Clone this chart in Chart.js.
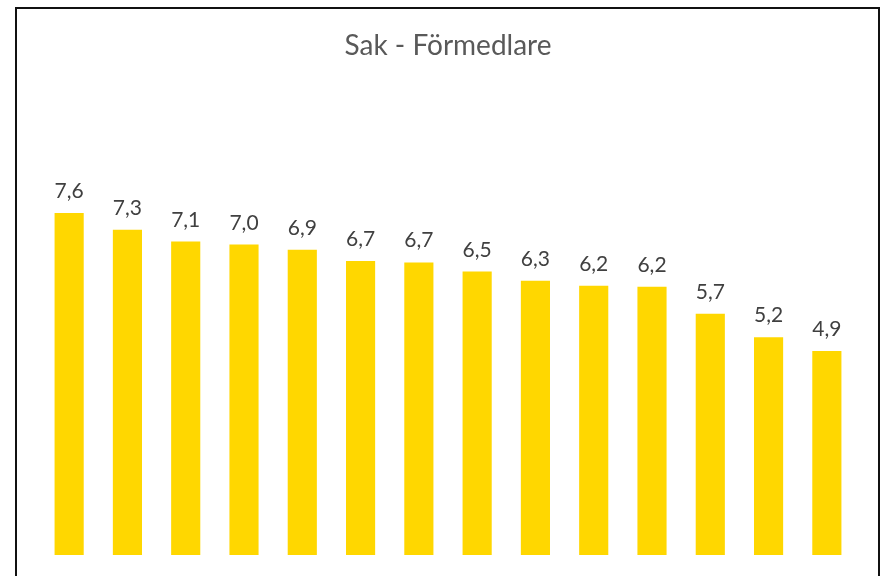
<!DOCTYPE html>
<html>
<head>
<meta charset="UTF-8">
<style>
    body { margin: 0; background: #fff; overflow: hidden; }
    #frame { position: absolute; left: 15px; top: 7px; width: 861px; height: 620px; border: 2px solid #111; }
    #wrap { position: absolute; left: 0; top: 0; width: 881px; height: 576px; }
</style>
</head>
<body>
<div id="frame"></div>
<div id="wrap">
    <canvas id="myChart" width="881" height="576"></canvas>
</div>

<script src="https://cdn.jsdelivr.net/npm/chart.js"></script>

<script>
    // values (labels show one decimal)
    const categories = ['1', '2', '3', '4', '5', '6', '7', '8', '9', '10', '11', '12', '13', '14'];
    const values = [7.64, 7.31, 7.08, 7.02, 6.92, 6.70, 6.67, 6.49, 6.31, 6.21, 6.19, 5.66, 5.20, 4.93];
    const title = 'Sak - Förmedlare';

    // simple value labels above every bar, comma as decimal separator
    const barLabels = {
        id: 'barLabels',
        afterDatasetsDraw(chart) {
            const ctx = chart.ctx;
            const meta = chart.getDatasetMeta(0);
            ctx.save();
            ctx.font = '21px Lato';
            ctx.fillStyle = '#404040';
            ctx.textAlign = 'center';
            ctx.textBaseline = 'alphabetic';
            meta.data.forEach((bar, i) => {
                const txt = values[i].toFixed(1).replace('.', ',');
                ctx.fillText(txt, bar.x, bar.y - 15);
            });
            ctx.restore();
        }
    };

    const ctx = document.getElementById('myChart');
    new Chart(ctx, {
        type: 'bar',
        data: {
            labels: categories,
            datasets: [{
                data: values,
                backgroundColor: '#FFD700',
                borderWidth: 0,
                barPercentage: 1,
                categoryPercentage: 0.5
            }]
        },
        options: {
            responsive: false,
            animation: false,
            layout: {
                padding: { left: 40, right: 25, top: 0, bottom: 21 }
            },
            scales: {
                x: { display: false },
                y: { display: false, min: 0.92, max: 10.4 }
            },
            plugins: {
                legend: { display: false },
                tooltip: { enabled: false },
                title: {
                    display: true,
                    text: title,
                    color: '#595959',
                    font: { family: 'Lato', size: 28, weight: 'normal' },
                    padding: { top: 29, bottom: 10 }
                }
            }
        },
        plugins: [barLabels]
    });
</script>
</body>
</html>
